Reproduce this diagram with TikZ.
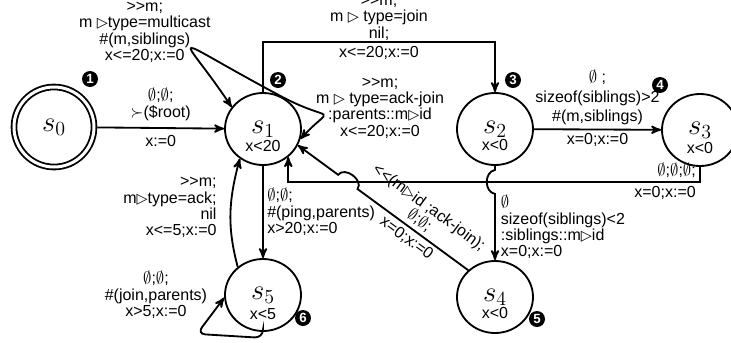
\documentclass[tikz,border=0pt]{standalone}
\usepackage{fontspec}
\setmainfont{Liberation Sans}[Ligatures=TeXOff]
\newfontfamily\symfont{DejaVu Sans}
\newcommand{\tri}{{\symfont\fontsize{8.6}{9.8}\selectfont ▷}}
\newcommand{\es}{$\emptyset$}
\usetikzlibrary{shapes,arrows,positioning,calc}

\tikzset{
  state/.style={ellipse, draw, line width=1.1pt, minimum width=45.6pt, minimum height=43.2pt, inner sep=0pt, font=\LARGE},
  init/.style={state, circle, minimum size=48pt, double, double distance=1.8pt, outer sep=2pt},
  guard/.style={font=\fontsize{9.6}{9.8}\selectfont, inner sep=0pt},
  lbl/.style={font=\fontsize{9.6}{9.8}\selectfont, inner sep=2pt},
  badge/.style={circle, fill=black, text=white, font=\bfseries\fontsize{8}{8}\selectfont, inner sep=0pt, minimum size=9.6pt},
  trans/.style={->, line width=1.1pt}
}

\begin{document}
\begin{tikzpicture}[x=0.6pt, y=0.6pt, >=stealth']
  \useasboundingbox (0,0) rectangle (731,342);

  \node [init]  (s0) at (54,215)  {$s_0$};
  \node [state] (s1) at (263,213) {$s_1$};
  \node [state] (s2) at (495,213) {$s_2$};
  \node [state] (s3) at (700,212) {$s_3$};
  \node [state] (s4) at (495,45)  {$s_4$};
  \node [state] (s5) at (263,47)  {$s_5$};

  \node [guard] (g1) at ([yshift=-10pt]s1.center) {x<20};
  \node [guard] (g2) at ([yshift=-9.5pt]s2.center) {x<0};
  \node [guard] (g3) at ([yshift=-11pt]s3.center) {x<0};
  \node [guard] (g4) at ([yshift=-9.5pt]s4.center) {x<0};
  \node [guard] (g5) at ([yshift=-11.5pt]s5.center) {x<5};

  \node [badge] (b1) at ($(s0)+(36,48)$)  {1};
  \node [badge] (b2) at ($(s1)+(15,49)$)  {2};
  \node [badge] (b3) at ($(s2)+(18,49)$)  {3};
  \node [badge] (b4) at ($(s3)+(-40,45)$) {4};
  \node [badge] (b5) at ($(s4)+(42,-22)$) {5};
  \node [badge] (b6) at ($(s5)+(40,-23)$) {6};

  \draw [trans] (s0) -- (s1)
    node [lbl, midway, above=2pt, align=center] {\es;\es;\\$\succ$(\$root)}
    node [lbl, midway, below=2pt] {x:=0};

  \draw [trans] (s1.60) .. controls +(-122,65) and +(-52,78) .. (s1.145)
    node [lbl, pos=0.5, xshift=-28pt, yshift=9.5pt, align=center] {>>m;\\m \tri type=multicast\\\#(m,siblings)\\x<=20;x:=0};

  \draw [trans] (s1.60) .. controls +(53,-28) and +(33,36) .. (s1.-15)
    node [lbl, pos=0.5, xshift=34pt, yshift=4pt, align=center] {>>m;\\m \tri{} type=ack-join\\:parents::m\tri id\\x<=20;x:=0};

  \draw [trans] (s1.north) -- ++(0,50) -| (s2.north)
    node [lbl, pos=0.25, above=-1.5pt, align=center] {>>m;\\m \tri{} type=join\\nil;}
    node [lbl, pos=0.25, below] {x<=20;x:=0};

  \draw [trans] (s2) -- (s3)
    node [lbl, midway, above, align=center] {\es{} ;\\[2pt]sizeof(siblings)>2\\[2pt]\#(m,siblings)}
    node [lbl, midway, below] {x=0;x:=0};

  \coordinate (ret) at ($(s3.south)+(0,-15)$);
  \coordinate (ret2) at (ret -| s1.-48);
  \draw [trans] (s3.south) -- (ret)
    node [lbl, above left] {\es;\es;\es;}
    node [lbl, below left] {x=0;x:=0}
    -- (ret2) -- (s1.-48);

  \coordinate (hop1) at (s2.south |- ret);
  \draw [trans] (s2.south) -- ($(hop1)+(0,12)$) .. controls +(-11,-2) and +(-11,2) .. ($(hop1)+(0,-12)$) -- (s4.north)
    node [lbl, midway, right=1pt, align=left] {\es\\sizeof(siblings)<2\\:siblings::m\tri id\\x=0;x:=0};

  \coordinate (d1) at (s4.135);
  \coordinate (d2) at (s1.-25);
  \coordinate (hop2) at (intersection of d1--d2 and ret--ret2);
  \draw [trans] (d1) -- ($(hop2)!7.2pt!(d1)$)
    node [lbl, midway, sloped, above, align=center] {<<(m\tri id ;ack-join);\\\es;\es;}
    node [lbl, midway, sloped, below] {x=0;x:=0}
    .. controls +(54:11) and +(54:11) .. ($(hop2)!7.2pt!(d2)$) -- (d2);

  \draw [trans] (s1) -- (s5)
    node [lbl, midway, right=0pt, align=left] {\es;\es;\\\#(ping,parents)\\x>20;x:=0};

  \draw [trans] (s5.132) to [out=105, in=255]
    node [lbl, pos=0.55, left=6pt, align=right] {>>m;\\m\tri type=ack;\\nil\\x<=5;x:=0} (s1.232);

  \draw [trans, rounded corners=5pt] (s5.south) -- ++(0,-6) -- ++(-66,4) -- (s5.184);
  \node [lbl, align=center, left=8pt of s5] (l5) {\es;\es;\\\#(join,parents)\\x>5;x:=0};
\end{tikzpicture}
\end{document}
